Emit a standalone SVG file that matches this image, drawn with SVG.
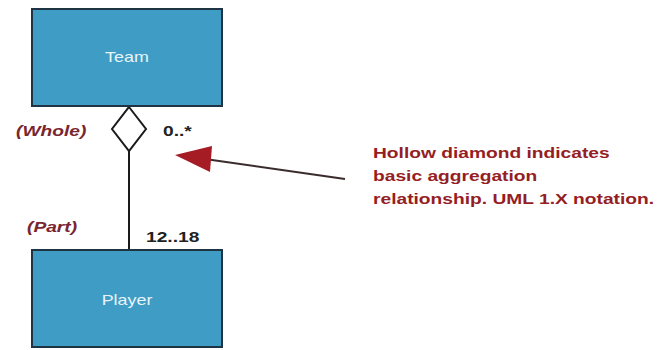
<svg xmlns="http://www.w3.org/2000/svg" width="660" height="350" viewBox="0 0 660 350">
<style>
.box{fill:#3f9cc4;stroke:#1e3442;stroke-width:2}
.cls{font-family:"Liberation Sans",Arial,sans-serif;font-size:14px;fill:#e8f4fa;text-anchor:middle}
.role{font-family:"Liberation Sans",Arial,sans-serif;font-size:15px;font-weight:bold;font-style:italic;fill:#7a2630}
.mult{font-family:"Liberation Sans",Arial,sans-serif;font-size:15px;font-weight:bold;fill:#222222}
.note{font-family:"Liberation Sans",Arial,sans-serif;font-size:15px;font-weight:bold;fill:#951e24}
</style>
<rect width="660" height="350" fill="#ffffff"/>
<g id="connectors">
<line x1="129" y1="151" x2="129" y2="250" stroke="#1a1a1a" stroke-width="2"/>
<polygon points="129,107 146,129 129,151 112,129" fill="#ffffff" stroke="#1a1a1a" stroke-width="2"/>
<line x1="345" y1="179" x2="205" y2="159" stroke="#3a2c2c" stroke-width="2"/>
<polygon points="175,155 212,146 210,172" fill="#a51c25"/>
</g>
<g id="team">
<rect class="box" x="32" y="9" width="190" height="97"/>
<text class="cls" transform="translate(127 62) scale(1.28 1)">Team</text>
</g>
<g id="player">
<rect class="box" x="32" y="250" width="190" height="97"/>
<text class="cls" transform="translate(127 305) scale(1.28 1)">Player</text>
</g>
<g id="labels">
<text class="role" transform="translate(16 136) scale(1.28 1)">(Whole)</text>
<text class="mult" transform="translate(163 136) scale(1.28 1)">0..*</text>
<text class="role" transform="translate(27 232) scale(1.28 1)">(Part)</text>
<text class="mult" transform="translate(146 242) scale(1.28 1)">12..18</text>
</g>
<g id="note" class="note">
<text transform="translate(373 158) scale(1.28 1)">Hollow diamond indicates</text>
<text transform="translate(373 181) scale(1.28 1)">basic aggregation</text>
<text transform="translate(373 204) scale(1.28 1)">relationship. UML 1.X notation.</text>
</g>
</svg>
